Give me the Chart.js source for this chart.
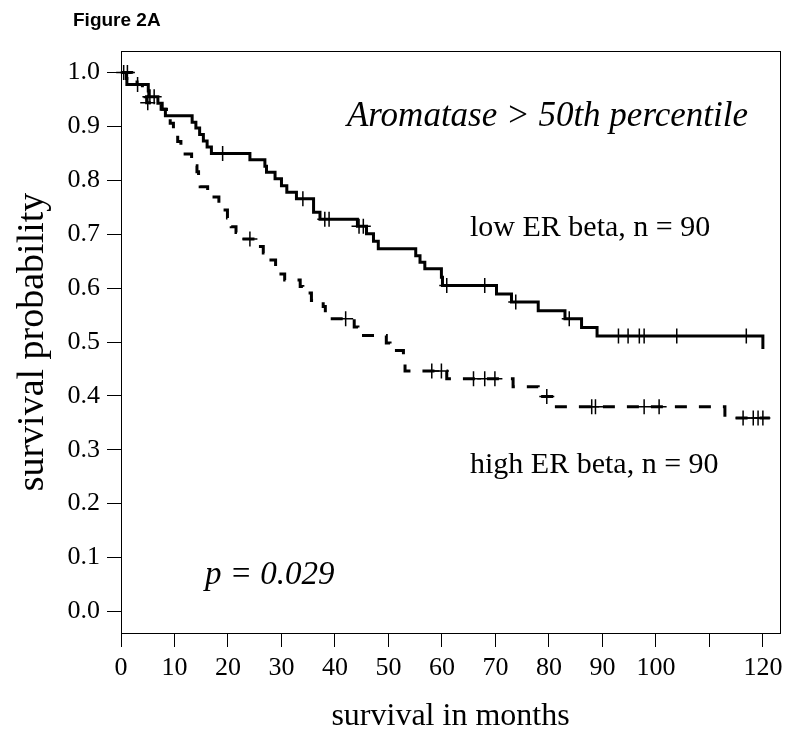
<!DOCTYPE html>
<html><head><meta charset="utf-8">
<script src="https://cdn.jsdelivr.net/npm/chart.js@4/dist/chart.umd.min.js"></script>
<style>html,body{margin:0;padding:0;background:#fff}canvas{display:block}</style>
</head><body>
<canvas id="c" width="800" height="748"></canvas>
<script>
// Kaplan-Meier step data: time (months) and survival after that time
const lowTimes = [0, 1.0, 1.1, 5.1, 5.2, 6.9, 7.7, 8.3, 13.3, 14.0, 14.7, 15.4, 16.1, 16.9, 24.1, 26.9, 27.2, 28.8, 30.0, 31.0, 32.8, 36.0, 37.2, 44.2, 45.9, 47.2, 48.1, 55.1, 55.9, 56.8, 59.9, 60.1, 70.2, 73.0, 78.0, 83.0, 86.1, 89.0, 120];
const lowSurv  = [1.0, 0.989, 0.978, 0.966, 0.955, 0.943, 0.932, 0.920, 0.908, 0.897, 0.885, 0.873, 0.862, 0.850, 0.838, 0.826, 0.815, 0.803, 0.790, 0.778, 0.766, 0.741, 0.728, 0.715, 0.701, 0.687, 0.673, 0.660, 0.648, 0.636, 0.620, 0.605, 0.589, 0.574, 0.558, 0.543, 0.527, 0.511, 0.487];
const lowCensor = [0.5, 3.1, 5.4, 6.2, 19.0, 34.0, 38.1, 38.9, 44.5, 45.3, 60.9, 68.0, 73.8, 83.8, 93.0, 94.8, 96.9, 97.8, 103.9, 116.9];

const highTimes = [0, 2.0, 3.0, 4.0, 4.5, 4.8, 7.5, 8.5, 9.2, 9.8, 10.2, 10.6, 11.2, 11.6, 13.2, 13.7, 14.2, 14.5, 14.8, 16.2, 17.0, 18.3, 18.9, 19.9, 20.6, 21.5, 22.3, 25.0, 26.6, 27.4, 28.9, 29.3, 30.6, 33.5, 34.0, 35.6, 37.8, 38.2, 38.6, 43.6, 44.3, 49.6, 50.3, 52.8, 53.0, 53.1, 60.9, 73.3, 78.0, 81.0, 112.9, 121.3];
const highSurv  = [1.0, 0.989, 0.978, 0.966, 0.955, 0.944, 0.932, 0.920, 0.906, 0.894, 0.883, 0.872, 0.860, 0.849, 0.838, 0.827, 0.816, 0.802, 0.788, 0.779, 0.769, 0.757, 0.745, 0.730, 0.714, 0.703, 0.691, 0.677, 0.665, 0.652, 0.640, 0.626, 0.615, 0.603, 0.591, 0.577, 0.566, 0.554, 0.543, 0.528, 0.512, 0.498, 0.484, 0.471, 0.459, 0.446, 0.432, 0.417, 0.399, 0.380, 0.359, 0.359];
const highCensor = [1.2, 5.0, 24.1, 42.0, 58.1, 59.9, 65.9, 68.0, 69.9, 79.6, 88.0, 88.7, 97.8, 100.6, 116.3, 118.2, 119.1, 120.0];

const xTicks = [0, 10, 20, 30, 40, 50, 60, 70, 80, 90, 100, 110, 120];
const xTickLabels = ['0', '10', '20', '30', '40', '50', '60', '70', '80', '90', '100', '', '120'];
const yTicks = [0, 0.1, 0.2, 0.3, 0.4, 0.5, 0.6, 0.7, 0.8, 0.9, 1.0];
const yTickLabels = ['0.0', '0.1', '0.2', '0.3', '0.4', '0.5', '0.6', '0.7', '0.8', '0.9', '1.0'];

const seriesLow = 'low ER beta, n = 90';
const seriesHigh = 'high ER beta, n = 90';
const panelTitle = 'Aromatase > 50th percentile';
const pValue = 'p = 0.029';
const figLabel = 'Figure 2A';
const xTitle = 'survival in months';
const yTitle = 'survival probability';

function survAt(times, surv, t) {
  let v = surv[0];
  for (let i = 0; i < times.length; i++) { if (times[i] <= t) v = surv[i]; }
  return v;
}
const pts = (ts, ss) => ts.map((t, i) => ({x: t, y: ss[i]}));
const cens = (cs, ts, ss) => cs.map(t => ({x: t, y: survAt(ts, ss, t)}));

const SERIF = "'Liberation Serif', 'Times New Roman', serif";

const annot = {
  id: 'annot',
  afterDraw(chart) {
    const ctx = chart.ctx, a = chart.chartArea;
    ctx.save();
    ctx.strokeStyle = '#000'; ctx.lineWidth = 1;
    ctx.strokeRect(a.left + 0.5, a.top + 0.5, a.right - a.left, a.bottom - a.top);
    ctx.fillStyle = '#000';
    ctx.textBaseline = 'alphabetic';
    ctx.font = 'italic 35px ' + SERIF; ctx.textAlign = 'right';
    ctx.fillText(panelTitle, 748, 126);
    ctx.textAlign = 'left';
    ctx.font = '30px ' + SERIF;
    ctx.fillText(seriesLow, 470, 236);
    ctx.fillText(seriesHigh, 470, 473);
    ctx.font = 'italic 33px ' + SERIF;
    ctx.fillText(pValue, 205, 584);
    ctx.font = "bold 19px 'Liberation Sans', Arial, sans-serif";
    ctx.fillText(figLabel, 73, 26);
    ctx.restore();
  }
};

new Chart(document.getElementById('c'), {
  type: 'line',
  data: {
    datasets: [
      {label: seriesLow, data: pts(lowTimes, lowSurv), stepped: true, borderColor: '#000', borderWidth: 3, pointRadius: 0, fill: false, borderCapStyle: 'butt', borderJoinStyle: 'miter'},
      {label: seriesHigh, data: pts(highTimes, highSurv), stepped: true, borderColor: '#000', borderWidth: 3, borderDash: [12, 12], pointRadius: 0, fill: false, borderCapStyle: 'butt', borderJoinStyle: 'miter'},
      {label: 'censor low', data: cens(lowCensor, lowTimes, lowSurv), showLine: false, pointStyle: 'cross', pointRadius: 7.5, pointBorderWidth: 1.5, pointBorderColor: '#000', clip: false},
      {label: 'censor high', data: cens(highCensor, highTimes, highSurv), showLine: false, pointStyle: 'cross', pointRadius: 7.5, pointBorderWidth: 1.5, pointBorderColor: '#000', clip: false}
    ]
  },
  options: {
    responsive: false, animation: false, events: [],
    layout: {padding: {top: 51, right: 20, left: 0, bottom: 0}},
    plugins: {legend: {display: false}, tooltip: {enabled: false}},
    scales: {
      x: {
        type: 'linear', min: 0, max: 123.2,
        afterFit(s) { s.height = 115; },
        afterBuildTicks(s) { s.ticks = xTicks.map(v => ({value: v})); },
        ticks: {color: '#000', font: {family: SERIF, size: 26}, padding: 6, maxRotation: 0, autoSkip: false,
          callback: (v) => xTickLabels[xTicks.indexOf(v)]},
        grid: {display: true, drawOnChartArea: false, drawTicks: true, tickLength: 14, tickColor: '#000', tickWidth: 1},
        border: {display: false},
        title: {display: true, text: xTitle, color: '#000', font: {family: SERIF, size: 32}, padding: {top: 0, bottom: 12}}
      },
      y: {
        type: 'linear', min: -0.04, max: 1.04,
        afterFit(s) { s.width = 121; },
        afterBuildTicks(s) { s.ticks = yTicks.map(v => ({value: v})); },
        ticks: {color: '#000', font: {family: SERIF, size: 26}, padding: 7, autoSkip: false,
          callback: (v) => yTickLabels[yTicks.indexOf(v)]},
        grid: {display: true, drawOnChartArea: false, drawTicks: true, tickLength: 14, tickColor: '#000', tickWidth: 1},
        border: {display: false},
        title: {display: true, text: yTitle, color: '#000', font: {family: SERIF, size: 38}, padding: {top: 10, bottom: 0}}
      }
    }
  },
  plugins: [annot]
});
</script>
</body></html>
